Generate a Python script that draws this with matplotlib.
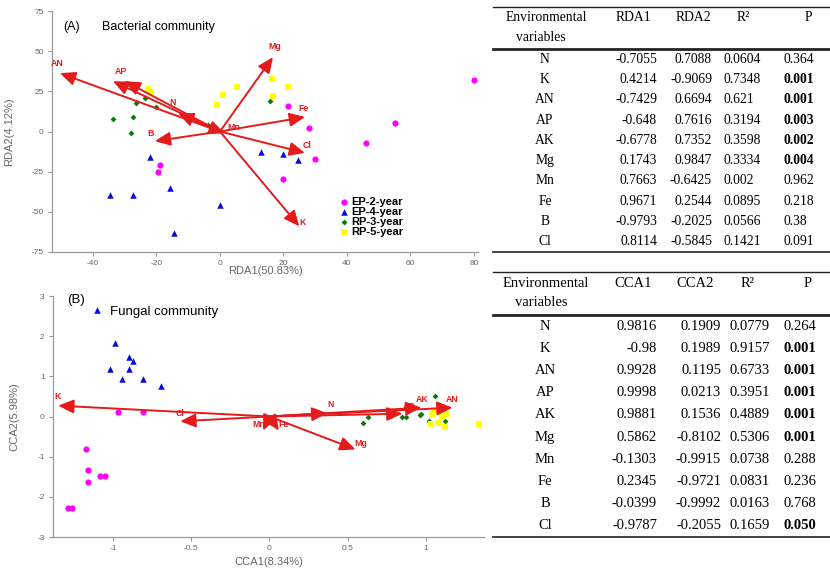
import numpy as np
import matplotlib
matplotlib.use("Agg")
import matplotlib.pyplot as plt
from matplotlib.lines import Line2D
from matplotlib.ticker import FuncFormatter

plt.rcParams['axes.unicode_minus'] = False
plt.rcParams['font.family'] = ['Liberation Sans', 'DejaVu Sans']

# ── data: RDA, bacterial community ───────────────────────────────────────────
groups = ["EP-2-year", "EP-4-year", "RP-3-year", "RP-5-year"]

rda_ep2_x = [80, 21.5, 28, 55, 46, 30, 20, -19, -19.5]
rda_ep2_y = [32, 16, 2, 5, -7, -17, -29.5, -21, -25]
rda_ep4_x = [-22, -34.5, -27.5, -15.7, 0, -14.5, 13, 19.8, 24.6]
rda_ep4_y = [-16, -39.5, -39.5, -35, -46, -63, -13, -14, -18]
rda_rp3_x = [-33.7, -27.4, -28, -26.5, -23.6, -20.2, -3.8, 15.7]
rda_rp3_y = [7.7, 9, -1, 18, 21, 15.3, 4, 19]
rda_rp5_x = [-22.7, -21.8, -0.9, 1, 5.4, 16.4, 21.5, 16.7]
rda_rp5_y = [26.4, 24.6, 16.4, 23, 28, 32.4, 28, 22]

rda_env   = ["AN", "AP", "AK", "N", "Mg", "Fe", "Cl", "K", "B", "Mn"]
rda_env_x = [-50.4, -33.7, -30, -13.2, 16.7, 26.8, 26.8, 25, -20.5, 1.5]
rda_env_y = [36.3, 31.3, 31.3, 11.4, 46.3, 9, -13.3, -59, -6, -1.2]

# ── data: CCA, fungal community ──────────────────────────────────────────────
cca_ep2_x = [-0.97, -0.81, -1.17, -1.16, -1.16, -1.08, -1.05, -1.29, -1.26]
cca_ep2_y = [0.12, 0.10, -0.82, -1.32, -1.62, -1.49, -1.47, -2.29, -2.29]
cca_ep4_x = [-1.10, -0.987, -0.90, -0.87, -1.02, -0.90, -0.94, -0.81, -0.69]
cca_ep4_y = [2.66, 1.84, 1.47, 1.37, 1.19, 1.19, 0.94, 0.94, 0.75]
cca_rp3_x = [1.06, 0.63, 0.60, 0.85, 0.87, 0.96, 0.97, 1.02, 1.12]
cca_rp3_y = [0.52, 0.0, -0.17, 0.0, 0.0, 0.03, 0.07, -0.12, -0.12]
cca_rp5_x = [1.05, 1.04, 1.10, 1.13, 1.03, 1.08, 1.12, 1.34]
cca_rp5_y = [0.17, 0.05, 0.0, 0.05, -0.18, -0.17, -0.25, -0.19]

cca_env   = ["K", "Cl", "N", "AP", "AK", "AN", "Mg", "Mn", "Fe"]
cca_env_x = [-1.35, -0.57, 0.37, 0.85, 0.97, 1.17, 0.55, -0.04, 0.06]
cca_env_y = [0.27, -0.12, 0.08, 0.07, 0.22, 0.22, -0.82, -0.35, -0.35]

# ── data: tables ─────────────────────────────────────────────────────────────
variables = ["N", "K", "AN", "AP", "AK", "Mg", "Mn", "Fe", "B", "Cl"]
rda1   = ["-0.7055", "0.4214", "-0.7429", "-0.648", "-0.6778", "0.1743", "0.7663", "0.9671", "-0.9793", "0.8114"]
rda2   = ["0.7088", "-0.9069", "0.6694", "0.7616", "0.7352", "0.9847", "-0.6425", "0.2544", "-0.2025", "-0.5845"]
rda_r2 = ["0.0604", "0.7348", "0.621", "0.3194", "0.3598", "0.3334", "0.002", "0.0895", "0.0566", "0.1421"]
rda_p  = ["0.364", "0.001", "0.001", "0.003", "0.002", "0.004", "0.962", "0.218", "0.38", "0.091"]
cca1   = ["0.9816", "-0.98", "0.9928", "0.9998", "0.9881", "0.5862", "-0.1303", "0.2345", "-0.0399", "-0.9787"]
cca2   = ["0.1909", "0.1989", "0.1195", "0.0213", "0.1536", "-0.8102", "-0.9915", "-0.9721", "-0.9992", "-0.2055"]
cca_r2 = ["0.0779", "0.9157", "0.6733", "0.3951", "0.4889", "0.5306", "0.0738", "0.0831", "0.0163", "0.1659"]
cca_p  = ["0.264", "0.001", "0.001", "0.001", "0.001", "0.001", "0.288", "0.236", "0.768", "0.050"]

# ── styles ───────────────────────────────────────────────────────────────────
RED = '#e51b1b'
GRAY = '#666666'
styles = [dict(marker='o', c='#ff00ff', s=20),
          dict(marker='^', c='#0a0adc', s=22),
          dict(marker='D', c='#0b7a0b', s=9),
          dict(marker='s', c='#ffff00', s=24)]

W, H = 830, 571
fig = plt.figure(figsize=(W/100, H/100), dpi=100)

def px_axes(l, t, r, b):
    return fig.add_axes([l/W, 1-b/H, (r-l)/W, (b-t)/H])

def style_axes(ax):
    for s in ['top', 'right']:
        ax.spines[s].set_visible(False)
    for s in ['left', 'bottom']:
        ax.spines[s].set_color('#999999')
        ax.spines[s].set_linewidth(0.9)
    ax.tick_params(length=3, width=0.8, color='#999999', labelsize=6,
                   labelcolor=GRAY, pad=3)

def draw_arrows(ax, names, xs, ys, offsets, hidden=()):
    for n, x, y in zip(names, xs, ys):
        ax.annotate('', xy=(x, y), xytext=(0, 0),
                    arrowprops=dict(arrowstyle='-|>,head_length=0.85,head_width=0.38',
                                    color=RED, lw=1.4, shrinkA=0, shrinkB=0,
                                    mutation_scale=11))
        if n in hidden:
            continue
        dx, dy = offsets.get(n, (0, 8))
        ax.annotate(n, xy=(x, y), xytext=(dx, dy), textcoords='offset pixels',
                    color=RED, fontsize=6.3, fontweight='bold', ha='center', va='center')

# ── (A) RDA ──────────────────────────────────────────────────────────────────
ax1 = px_axes(52, 11, 478, 252)
style_axes(ax1)
rda_pts = [(rda_ep2_x, rda_ep2_y), (rda_ep4_x, rda_ep4_y),
           (rda_rp3_x, rda_rp3_y), (rda_rp5_x, rda_rp5_y)]
for g, (xs, ys), st in zip(groups, rda_pts, styles):
    ax1.scatter(xs, ys, label=g, linewidths=0, zorder=2, **st)
draw_arrows(ax1, rda_env, rda_env_x, rda_env_y,
            {"AN": (-3, 10), "AP": (8, 10), "N": (-5, 11), "Mg": (2, 11),
             "Fe": (-1, 9), "Cl": (2, 7), "K": (3, 4), "B": (-4, 8), "Mn": (9, 6)},
            hidden=("AK",))
ax1.set_xlim(-52.9, 81.3)
ax1.set_ylim(-75, 75)
ax1.set_xticks([-40, -20, 0, 20, 40, 60, 80])
ax1.set_yticks([-75, -50, -25, 0, 25, 50, 75])
ax1.set_xlabel("RDA1(50.83%)", fontsize=8, color=GRAY)
ax1.set_ylabel("RDA2(4.12%)", fontsize=8, color=GRAY)
ax1.xaxis.set_label_coords(0.5, -0.06)
ax1.yaxis.set_label_coords(-0.088, 0.5)
ax1.text(-49.5, 65, "(A)", fontsize=9, va='center')
ax1.text(-37, 65, "Bacterial community", fontsize=9, va='center')
leg = ax1.legend(loc='upper left', bbox_to_anchor=(0.672, 0.228), frameon=False,
                 prop=dict(size=8, weight='bold'), handletextpad=0.2,
                 labelspacing=0.0, handlelength=1.0, borderpad=0, borderaxespad=0)

# ── (B) CCA ──────────────────────────────────────────────────────────────────
ax2 = px_axes(53, 296, 484, 537)
style_axes(ax2)
cca_pts = [(cca_ep2_x, cca_ep2_y), (cca_ep4_x, cca_ep4_y),
           (cca_rp3_x, cca_rp3_y), (cca_rp5_x, cca_rp5_y)]
for g, (xs, ys), st in zip(groups, cca_pts, styles):
    ax2.scatter(xs, ys, label=g, linewidths=0, zorder=2, **st)
draw_arrows(ax2, cca_env, cca_env_x, cca_env_y,
            {"K": (-1, 9), "Cl": (0, 8), "N": (3, 9), "AP": (6, 7), "AK": (1, 8),
             "AN": (0, 8), "Mg": (5, 6), "Mn": (-4, 6), "Fe": (5, 6)})
ax2.set_xlim(-1.383, 1.371)
ax2.set_ylim(-3, 3)
ax2.set_xticks([-1, -0.5, 0, 0.5, 1])
ax2.set_yticks([-3, -2, -1, 0, 1, 2, 3])
ax2.xaxis.set_major_formatter(FuncFormatter(lambda v, p: '%g' % v))
ax2.set_xlabel("CCA1(8.34%)", fontsize=8, color=GRAY)
ax2.set_ylabel("CCA2(5.98%)", fontsize=8, color=GRAY)
ax2.xaxis.set_label_coords(0.5, -0.085)
ax2.yaxis.set_label_coords(-0.078, 0.5)
ax2.text(-1.29, 2.89, "(B)", fontsize=9.5, va='center')
ax2.text(-1.02, 2.61, "Fungal community", fontsize=9.5, va='center')

# ── tables ───────────────────────────────────────────────────────────────────
def hline(y, lw):
    fig.add_artist(Line2D([493/W, 1.0], [1-y/H, 1-y/H], color='#222222', lw=lw))

def ftext(x, y, s, ha='center', **kw):
    fig.text(x/W, 1-y/H, s, ha=ha, va='center', family='Liberation Serif', **kw)

def draw_table(top, mid, bot, head, cols, colx, fs):
    hline(top, 1.0); hline(mid, 2.0); hline(bot, 1.2)
    h1 = top + (mid-top)*0.26
    h2 = top + (mid-top)*0.72
    ftext(546, h1, "Environmental", fontsize=fs)
    ftext(541, h2, "variables", fontsize=fs)
    for name, (hx, _, _) in zip(head, colx):
        ftext(hx, h1, name, fontsize=fs)
    step = (bot - mid) / len(variables)
    for i, v in enumerate(variables):
        y = mid + (i + 0.5) * step
        ftext(545, y, v, fontsize=fs)
        for c, (col, (_, vx, ha)) in enumerate(zip(cols, colx)):
            bold = c == 3 and float(col[i]) <= 0.05
            ftext(vx, y, col[i], ha=ha, fontsize=fs,
                  fontweight='bold' if bold else 'normal')

draw_table(7, 49, 252, ["RDA1", "RDA2", "R²", "P"],
           [rda1, rda2, rda_r2, rda_p],
           [(633, 657, 'right'), (693, 712, 'right'), (743, 723, 'left'), (808, 783, 'left')],
           9.8)
draw_table(272, 315, 537, ["CCA1", "CCA2", "R²", "P"],
           [cca1, cca2, cca_r2, cca_p],
           [(633, 657, 'right'), (695, 721, 'right'), (748, 730, 'left'), (808, 783, 'left')],
           10.5)

fig.savefig("out.png", dpi=100)
